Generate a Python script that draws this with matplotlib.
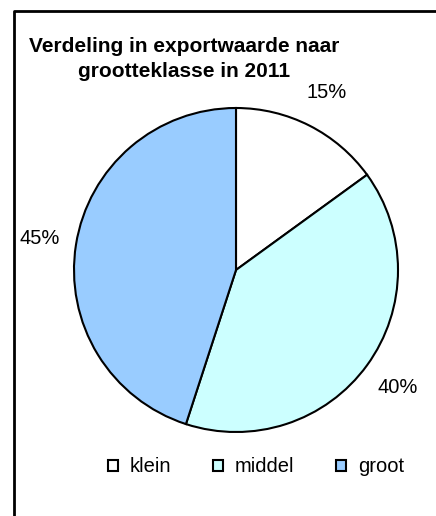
import matplotlib
matplotlib.use("Agg")
import matplotlib.pyplot as plt

labels = ["klein", "middel", "groot"]
shares = [15, 40, 45]
colors = ["#FFFFFF", "#CCFFFF", "#99CCFF"]
title = "Verdeling in exportwaarde naar\ngrootteklasse in 2011"

plt.rcParams["font.family"] = ["Liberation Sans", "DejaVu Sans"]

W, H = 436, 516
fig = plt.figure(figsize=(W / 100, H / 100), dpi=100)
ax = fig.add_axes([0, 0, 1, 1])

# outer chart frame (right and bottom run off the picture)
ax.plot([14, 14, W + 5], [-5, H - 11, H - 11], color="black", lw=2, clip_on=False)

wedges, texts, autotexts = ax.pie(
    shares, colors=colors, startangle=90, counterclock=False,
    center=(236, H - 270), radius=162, autopct="%d%%", pctdistance=1.23,
    wedgeprops=dict(edgecolor="black", linewidth=1.5),
    textprops=dict(fontsize=14.5, color="black"), frame=True)
ax.set_xlim(0, W)
ax.set_ylim(0, H)
ax.set_aspect("equal")
ax.axis("off")

ax.text(184, H - 59, title, ha="center", va="center", fontsize=15,
        fontweight="bold", linespacing=1.45)

ax.legend(wedges, labels, loc="center", bbox_to_anchor=(256 / W, 49 / H),
          ncol=3, frameon=False, fontsize=14.5, handlelength=0.5, handleheight=0.5,
          handletextpad=0.6, columnspacing=2.05)

fig.savefig("out.png", dpi=100)
